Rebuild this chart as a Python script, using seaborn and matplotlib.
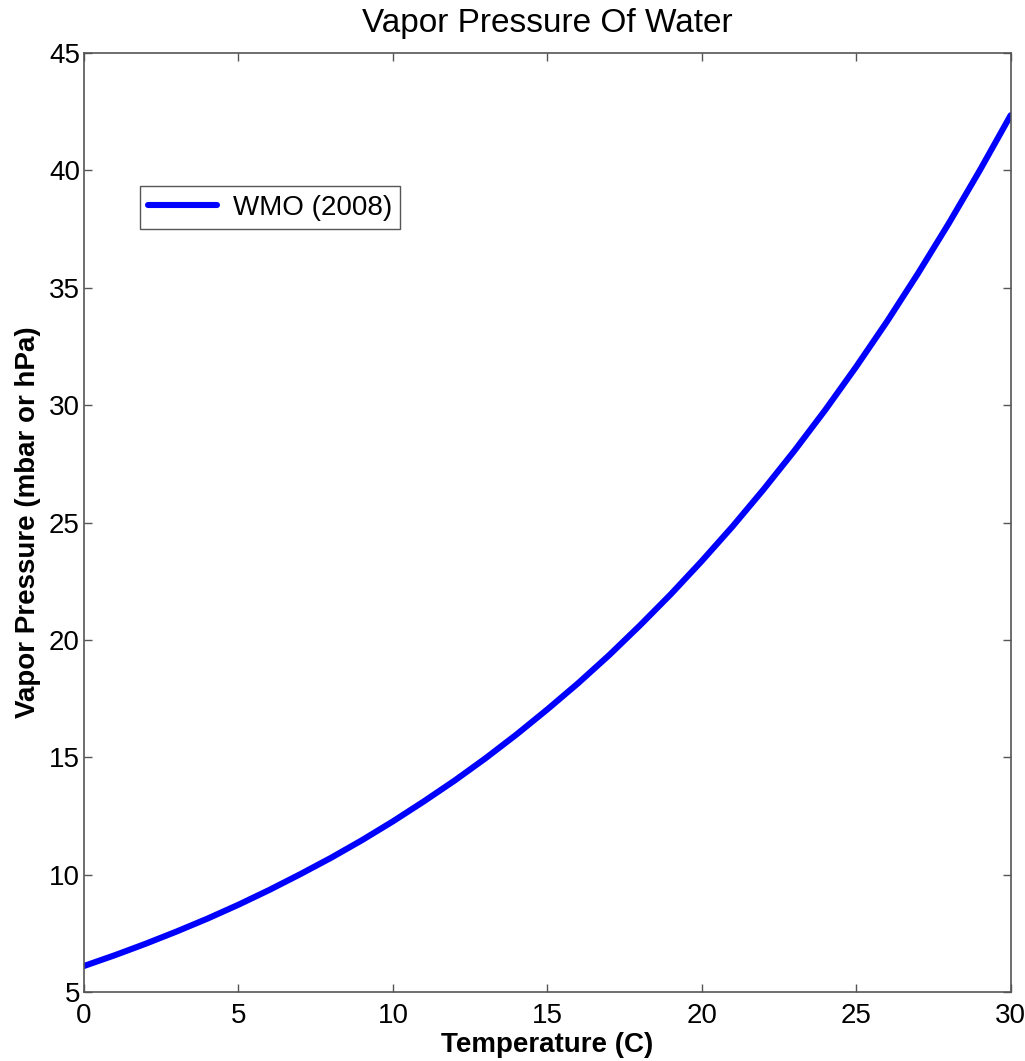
# Vapor pressure of water line chart
import pandas as pd
import matplotlib
matplotlib.use("Agg")
import matplotlib.pyplot as plt
import seaborn as sns

# Values (temperature in C, pressure in hPa)
temperature = [0, 1, 2, 3, 4, 5, 6, 7, 8, 9, 10, 11, 12, 13, 14, 15,
               16, 17, 18, 19, 20, 21, 22, 23, 24, 25, 26, 27, 28, 29, 30]
vapor_pressure = [6.11, 6.57, 7.06, 7.58, 8.13, 8.72, 9.35, 10.02, 10.72, 11.47,
                  12.27, 13.12, 14.01, 14.96, 15.97, 17.04, 18.16, 19.35, 20.62,
                  21.95, 23.36, 24.84, 26.41, 28.06, 29.80, 31.64, 33.57, 35.61,
                  37.75, 40.00, 42.35]
series_name = "WMO (2008)"

x_ticks = [0, 5, 10, 15, 20, 25, 30]
y_ticks = [5, 10, 15, 20, 25, 30, 35, 40, 45]

df = pd.DataFrame({"Temperature": temperature,
                   "Pressure": vapor_pressure,
                   "Source": series_name})

sns.set_style("white")
plt.rcParams['font.family'] = ['Liberation Sans', 'DejaVu Sans']

fig = plt.figure(figsize=(10.25, 10.61), dpi=100)
ax = fig.add_axes([0.082, 0.065, 0.904, 0.885])

sns.lineplot(data=df, x="Temperature", y="Pressure", hue="Source",
             palette=["#0000ff"], linewidth=4.4, ax=ax)

ax.set_xlim(0, 30)
ax.set_ylim(5, 45)
ax.set_xticks(x_ticks)
ax.set_yticks(y_ticks)
ax.tick_params(direction="in", length=6, width=1, labelsize=20,
               top=True, right=True, bottom=True, left=True, colors="#555555",
               labelcolor="black")
ax.tick_params(axis="x", pad=8)
ax.tick_params(axis="y", pad=3)
for spine in ax.spines.values():
    spine.set_visible(True)
    spine.set_color("#555555")
    spine.set_linewidth(1.2)

ax.set_title("Vapor Pressure Of Water", fontsize=24, pad=15, color="black")
ax.set_xlabel("Temperature (C)", fontsize=20, fontweight="bold", labelpad=2,
              color="black")
ax.set_ylabel("Vapor Pressure (mbar or hPa)", fontsize=20, fontweight="bold",
              labelpad=6, color="black")

leg = ax.legend(loc="upper left", bbox_to_anchor=(0.06, 0.858), fontsize=20,
                frameon=True, fancybox=False, framealpha=1, edgecolor="#555555",
                handlelength=2.5, handletextpad=0.55, borderpad=0.3,
                borderaxespad=0, title=None)
leg.get_frame().set_linewidth(1.0)
for t in leg.get_texts():
    t.set_color("black")

fig.savefig("out.png", dpi=100)
